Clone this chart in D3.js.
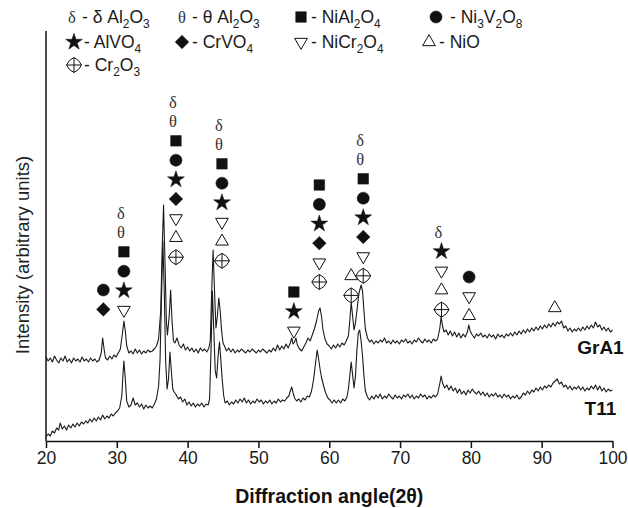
<!DOCTYPE html>
<html>
<head>
<meta charset="utf-8">
<script src="https://cdn.jsdelivr.net/npm/d3@7/dist/d3.min.js"></script>
<style>
    body { margin: 0; background: #fff; }
    svg { display: block; font-family: "Liberation Sans", Arial, sans-serif; }
</style>
</head>
<body>
<svg id="chart" width="628" height="508"></svg>
<script>
"use strict";

// [2theta, intensity] (arbitrary units)
const grA1 = [
    [20.0,84],[20.3,80],[20.6,83],[20.9,79],[21.2,85],[21.5,81],[21.8,78],[22.1,83],[22.4,80],[22.7,85],
    [23.0,79],[23.3,82],[23.6,78],[23.9,83],[24.2,80],[24.5,82],[24.8,79],[25.1,84],[25.4,80],[25.7,82],
    [26.0,79],[26.3,83],[26.6,80],[26.9,82],[27.2,79],[27.5,81],[27.8,88],[28.0,103],[28.2,92],[28.4,83],
    [28.7,81],[29.0,85],[29.3,82],[29.6,86],[29.9,84],[30.2,88],[30.5,92],[30.8,108],[31.0,120],[31.2,110],
    [31.4,95],[31.7,88],[32.0,90],[32.3,87],[32.6,92],[32.9,88],[33.2,91],[33.5,87],[33.8,90],[34.1,88],
    [34.4,91],[34.7,89],[35.0,90],[35.3,92],[35.6,95],[35.9,102],[36.2,130],[36.4,190],[36.6,236],[36.8,180],
    [37.0,120],[37.15,106],[37.4,125],[37.6,151],[37.8,120],[38.0,100],[38.2,98],[38.5,103],[38.8,96],[39.1,93],
    [39.4,97],[39.7,91],[40.0,94],[40.3,90],[40.6,93],[40.9,89],[41.2,92],[41.5,88],[41.8,93],[42.1,90],
    [42.4,92],[42.7,89],[43.0,93],[43.2,100],[43.4,150],[43.6,191],[43.8,150],[44.0,113],[44.2,125],[44.4,143],
    [44.6,130],[44.8,110],[45.0,98],[45.2,95],[45.5,90],[45.8,93],[46.1,89],[46.4,92],[46.7,88],[47.0,91],
    [47.3,89],[47.6,92],[47.9,90],[48.2,88],[48.5,91],[48.8,89],[49.1,92],[49.4,90],[49.7,88],[50.0,91],
    [50.3,89],[50.6,92],[50.9,90],[51.2,88],[51.5,91],[51.8,89],[52.1,93],[52.4,90],[52.7,96],[53.0,91],
    [53.3,95],[53.6,92],[53.9,97],[54.2,93],[54.5,98],[54.7,103],[54.9,97],[55.1,99],[55.3,103],[55.5,96],
    [55.8,92],[56.1,90],[56.4,94],[56.7,98],[57.0,103],[57.3,100],[57.6,106],[57.9,112],[58.2,120],[58.5,130],
    [58.7,133],[58.9,125],[59.1,112],[59.4,102],[59.7,97],[60.0,95],[60.3,92],[60.6,96],[60.9,93],[61.2,97],
    [61.5,94],[61.8,98],[62.1,96],[62.4,100],[62.7,105],[62.9,120],[63.1,139],[63.3,125],[63.5,111],[63.7,118],
    [63.9,130],[64.2,148],[64.5,156],[64.7,150],[64.9,130],[65.1,112],[65.4,103],[65.7,99],[66.0,101],[66.3,97],
    [66.6,100],[66.9,98],[67.2,101],[67.5,99],[67.8,103],[68.1,98],[68.4,100],[68.7,97],[69.0,101],[69.3,98],
    [69.6,100],[69.9,97],[70.2,101],[70.5,99],[70.8,102],[71.1,98],[71.4,100],[71.7,97],[72.0,101],[72.3,99],
    [72.6,103],[72.9,100],[73.2,98],[73.5,102],[73.8,99],[74.1,101],[74.4,98],[74.7,102],[75.0,100],[75.3,102],
    [75.6,112],[75.8,124],[76.0,115],[76.2,109],[76.5,111],[76.8,106],[77.1,110],[77.4,105],[77.7,109],[78.0,104],
    [78.3,108],[78.6,103],[78.9,107],[79.2,104],[79.5,109],[79.7,116],[79.9,110],[80.2,106],[80.5,103],[80.8,107],
    [81.1,105],[81.4,108],[81.7,104],[82.0,106],[82.3,103],[82.6,107],[82.9,104],[83.2,106],[83.5,102],[83.8,107],
    [84.1,104],[84.4,106],[84.7,103],[85.0,107],[85.3,105],[85.6,108],[85.9,105],[86.2,109],[86.5,106],[86.8,110],
    [87.1,107],[87.4,111],[87.7,108],[88.0,112],[88.3,109],[88.6,113],[88.9,110],[89.2,114],[89.5,111],[89.8,115],
    [90.1,112],[90.4,116],[90.7,113],[91.0,117],[91.3,114],[91.6,118],[91.9,115],[92.2,119],[92.5,117],[92.8,120],
    [93.1,113],[93.4,115],[93.7,110],[94.0,113],[94.3,109],[94.6,112],[94.9,110],[95.2,113],[95.5,110],[95.8,114],
    [96.1,111],[96.4,115],[96.7,112],[97.0,116],[97.3,113],[97.6,119],[97.9,114],[98.2,116],[98.5,111],[98.8,114],
    [99.1,110],[99.4,113],[99.7,109],[100.0,111]
];

const t11 = [
    [20.0,4],[20.3,7],[20.6,5],[20.9,10],[21.2,8],[21.5,13],[21.8,11],[22.0,18],[22.3,12],[22.6,15],
    [22.9,11],[23.2,16],[23.5,13],[23.8,17],[24.1,14],[24.4,18],[24.7,15],[25.0,19],[25.3,17],[25.6,20],
    [25.9,18],[26.2,22],[26.5,19],[26.8,23],[27.1,20],[27.4,24],[27.7,21],[28.0,26],[28.3,22],[28.6,25],
    [28.9,23],[29.2,27],[29.5,25],[29.8,28],[30.1,30],[30.4,33],[30.7,45],[30.9,70],[31.0,80],[31.2,62],
    [31.4,40],[31.7,34],[32.0,36],[32.3,43],[32.6,36],[32.9,38],[33.2,34],[33.5,37],[33.8,32],[34.1,36],
    [34.4,33],[34.7,35],[35.0,33],[35.3,37],[35.6,42],[35.9,55],[36.1,80],[36.3,140],[36.5,200],[36.7,150],
    [36.9,80],[37.1,52],[37.3,62],[37.5,89],[37.7,70],[37.9,52],[38.1,49],[38.4,46],[38.7,42],[39.0,44],
    [39.3,39],[39.6,42],[39.9,36],[40.2,39],[40.5,35],[40.8,38],[41.1,34],[41.4,37],[41.7,35],[42.0,38],
    [42.3,34],[42.6,37],[42.9,36],[43.1,42],[43.3,90],[43.5,150],[43.7,110],[43.9,70],[44.1,63],[44.3,85],
    [44.5,99],[44.7,80],[44.9,60],[45.1,45],[45.3,38],[45.6,40],[45.9,36],[46.2,39],[46.5,37],[46.8,41],
    [47.1,38],[47.4,42],[47.7,39],[48.0,43],[48.3,38],[48.6,41],[48.9,37],[49.2,40],[49.5,38],[49.8,42],
    [50.1,39],[50.4,41],[50.7,37],[51.0,40],[51.3,38],[51.6,41],[51.9,37],[52.2,40],[52.5,38],[52.8,42],
    [53.1,39],[53.4,41],[53.7,40],[54.0,43],[54.3,45],[54.5,50],[54.7,54],[54.9,48],[55.1,43],[55.4,40],
    [55.7,42],[56.0,39],[56.3,43],[56.6,41],[56.9,45],[57.2,44],[57.5,50],[57.8,62],[58.1,80],[58.3,91],
    [58.5,82],[58.7,72],[58.9,64],[59.2,55],[59.5,48],[59.8,43],[60.1,41],[60.4,38],[60.7,41],[61.0,38],
    [61.3,41],[61.6,38],[61.9,42],[62.2,40],[62.5,44],[62.7,52],[62.9,65],[63.1,79],[63.3,66],[63.5,53],
    [63.7,65],[63.9,90],[64.1,108],[64.3,111],[64.5,100],[64.7,85],[64.9,65],[65.1,50],[65.4,44],[65.7,41],
    [66.0,45],[66.3,42],[66.6,46],[66.9,43],[67.2,47],[67.5,42],[67.8,45],[68.1,43],[68.4,47],[68.7,44],
    [69.0,42],[69.3,46],[69.6,43],[69.9,45],[70.2,42],[70.5,46],[70.8,44],[71.1,47],[71.4,43],[71.7,46],
    [72.0,42],[72.3,45],[72.6,43],[72.9,47],[73.2,44],[73.5,46],[73.8,42],[74.1,45],[74.4,43],[74.7,46],
    [75.0,44],[75.3,47],[75.6,57],[75.8,65],[76.0,58],[76.3,53],[76.6,56],[76.9,51],[77.2,55],[77.5,50],
    [77.8,53],[78.1,48],[78.4,52],[78.7,47],[79.0,50],[79.3,46],[79.6,51],[79.9,48],[80.2,52],[80.5,49],
    [80.8,47],[81.1,50],[81.4,46],[81.7,49],[82.0,45],[82.3,48],[82.6,44],[82.9,47],[83.2,45],[83.5,48],
    [83.8,44],[84.1,46],[84.4,43],[84.7,47],[85.0,44],[85.3,46],[85.6,42],[85.9,45],[86.2,43],[86.5,46],
    [86.8,42],[87.1,44],[87.4,48],[87.7,46],[88.0,50],[88.3,47],[88.6,51],[88.9,49],[89.2,53],[89.5,50],
    [89.8,54],[90.1,51],[90.4,55],[90.7,53],[91.0,56],[91.3,54],[91.6,58],[91.9,60],[92.2,62],[92.5,57],
    [92.8,59],[93.1,54],[93.4,56],[93.7,52],[94.0,55],[94.3,51],[94.6,54],[94.9,52],[95.2,55],[95.5,51],
    [95.8,54],[96.1,50],[96.4,53],[96.7,51],[97.0,55],[97.3,52],[97.6,56],[97.9,51],[98.2,55],[98.5,50],
    [98.8,53],[99.1,49],[99.4,52],[99.7,50],[100.0,51]
];

const seriesNames = ['GrA1', 'T11'];
const xTicks = [20, 30, 40, 50, 60, 70, 80, 90, 100];

// phase markers above the peaks: position (2theta), level of the top marker, stack of phases
const peakAngles = [28.1, 31.0, 38.35, 44.85, 55.0, 58.6, 63.1, 64.8, 75.85, 79.75, 91.85];
const peakTops = [151, 228, 339, 316, 149, 256, 165, 301, 209, 164, 133];
const peakPhases = [
    ['circle', 'diamond'],
    ['delta', 'theta', 'square', 'circle', 'star', 'tridown'],
    ['delta', 'theta', 'square', 'circle', 'star', 'diamond', 'tridown', 'triup', 'cross'],
    ['delta', 'theta', 'square', 'circle', 'star', 'tridown', 'triup', 'cross'],
    ['square', 'star', 'tridown'],
    ['square', 'circle', 'star', 'diamond', 'tridown', 'cross'],
    ['triup', 'cross'],
    ['delta', 'theta', 'square', 'circle', 'star', 'diamond', 'tridown', 'cross'],
    ['delta', 'star', 'tridown', 'triup', 'cross'],
    ['circle', 'tridown', 'triup'],
    ['triup']
];

const legendKeys = ['delta', 'theta', 'square', 'circle', 'star', 'diamond', 'tridown', 'triup', 'cross'];
const legendNames = ['- δ Al2O3', '- θ Al2O3', '- NiAl2O4', '- Ni3V2O8', '- AlVO4', '- CrVO4', '- NiCr2O4', '- NiO', '- Cr2O3'];

const W = 628, H = 508;
const margin = {top: 31, right: 16, bottom: 67, left: 46};

function drawMarker(g, key, x, y) {
    if (key === 'delta' || key === 'theta') {
        g.append('text')
            .attr('x', x - 3)
            .attr('y', y)
            .attr('dy', '0.35em')
            .attr('text-anchor', 'middle')
            .attr('font-family', '"Liberation Serif", "DejaVu Serif", serif')
            .attr('font-size', 16.5)
            .attr('fill', '#333')
            .text(key === 'delta' ? 'δ' : 'θ');
        return;
    }
    let d, rot = 0, filled = true;
    if (key === 'square') d = d3.symbol(d3.symbolSquare, 112)();
    else if (key === 'circle') d = d3.symbol(d3.symbolCircle, 115)();
    else if (key === 'star') d = d3.symbol(d3.symbolStar, 88)();
    else if (key === 'diamond') { d = d3.symbol(d3.symbolSquare, 92)(); rot = 45; }
    else if (key === 'tridown') { d = d3.symbol(d3.symbolTriangle, 70)(); rot = 180; filled = false; }
    else if (key === 'triup') { d = d3.symbol(d3.symbolTriangle, 70)(); filled = false; }
    else if (key === 'cross') {
        d = 'M0,-7.5Q5.3,-5.3 7.5,0Q5.3,5.3 0,7.5Q-5.3,5.3 -7.5,0Q-5.3,-5.3 0,-7.5ZM0,-7.5V7.5M-7.5,0H7.5';
        filled = false;
    }
    g.append('path')
        .attr('d', d)
        .attr('transform', `translate(${x},${y}) rotate(${rot})`)
        .attr('fill', filled ? '#111' : '#fff')
        .attr('stroke', '#111')
        .attr('stroke-width', filled ? 0.5 : 1);
}

// digits become subscripts
function richText(sel, str, size) {
    let shifted = false;
    str.split(/(\d+)/).forEach(part => {
        if (!part) return;
        const sub = /^\d+$/.test(part);
        let ts = sel.append('tspan').text(part);
        if (sub) {
            ts.attr('font-size', size * 0.68).attr('dy', 5);
            shifted = true;
        } else if (shifted) {
            ts.attr('dy', -5);
            shifted = false;
        }
    });
}

function drawChart() {
    let svg = d3.select('#chart');

    let x = d3.scaleLinear()
        .domain([20, 100])
        .range([margin.left, W - margin.right + 0.5]);
    let y = d3.scaleLinear()
        .domain([0, 410])
        .range([H - margin.bottom, margin.top]);

    // traces
    let line = d3.line()
        .x(d => x(d[0]))
        .y(d => y(d[1]));
    [grA1, t11].forEach(s => {
        svg.append('path')
            .datum(s)
            .attr('d', line)
            .attr('fill', 'none')
            .attr('stroke', '#1a1a1a')
            .attr('stroke-width', 1.1)
            .attr('stroke-linejoin', 'round');
    });

    // x axis
    let xAxis = svg.append('g')
        .attr('transform', `translate(0,${H - margin.bottom})`)
        .call(d3.axisBottom(x).tickValues(xTicks).tickSize(7).tickPadding(4).tickSizeOuter(0));
    xAxis.select('.domain').attr('stroke', '#111').attr('stroke-width', 1.5);
    xAxis.selectAll('.tick line').attr('stroke', '#111').attr('stroke-width', 1.5);
    xAxis.selectAll('.tick text')
        .attr('font-family', '"Liberation Sans", Arial, sans-serif')
        .attr('font-size', 17.5)
        .attr('fill', '#1a1a1a');

    // y axis: plain line, no ticks
    svg.append('line')
        .attr('x1', x(20)).attr('x2', x(20))
        .attr('y1', y(410)).attr('y2', y(0))
        .attr('stroke', '#111')
        .attr('stroke-width', 1.5);

    svg.append('text')
        .attr('x', (x(20) + x(100)) / 2)
        .attr('y', 503)
        .attr('text-anchor', 'middle')
        .attr('font-size', 19.5)
        .attr('font-weight', 'bold')
        .attr('fill', '#111')
        .text('Diffraction angle(2θ)');

    svg.append('text')
        .attr('transform', `translate(29,${y(186)}) rotate(-90)`)
        .attr('text-anchor', 'middle')
        .attr('font-size', 18.5)
        .attr('fill', '#222')
        .text('Intensity (arbitrary units)');

    // series names
    let nameLevels = [94, 33];
    seriesNames.forEach((n, i) => {
        svg.append('text')
            .attr('x', x(98.3))
            .attr('y', y(nameLevels[i]))
            .attr('dy', '0.35em')
            .attr('text-anchor', 'middle')
            .attr('font-size', 19)
            .attr('font-weight', 'bold')
            .attr('fill', '#111')
            .text(n);
    });

    // phase markers
    let mk = svg.append('g');
    const step = 19.4;
    peakAngles.forEach((a, i) => {
        peakPhases[i].forEach((key, j) => {
            drawMarker(mk, key, x(a), y(peakTops[i]) + j * step);
        });
    });

    // legend
    let lg = svg.append('g');
    const symX = [72, 182, 301, 436, 74, 182, 301, 429, 74];
    const rowY = [17, 42, 65];
    legendKeys.forEach((key, i) => {
        let sx = symX[i];
        let sy = rowY[Math.floor(i / 4)];
        drawMarker(lg, key, sx + (key === 'delta' || key === 'theta' ? 3 : 0), sy);
        let t = lg.append('text')
            .attr('x', sx + (i === 3 ? 14 : 10))
            .attr('y', sy)
            .attr('dy', '0.35em')
            .attr('font-size', 17.5)
            .attr('fill', '#1a1a1a');
        richText(t, legendNames[i], 17.5);
    });
}

drawChart();
</script>
</body>
</html>
